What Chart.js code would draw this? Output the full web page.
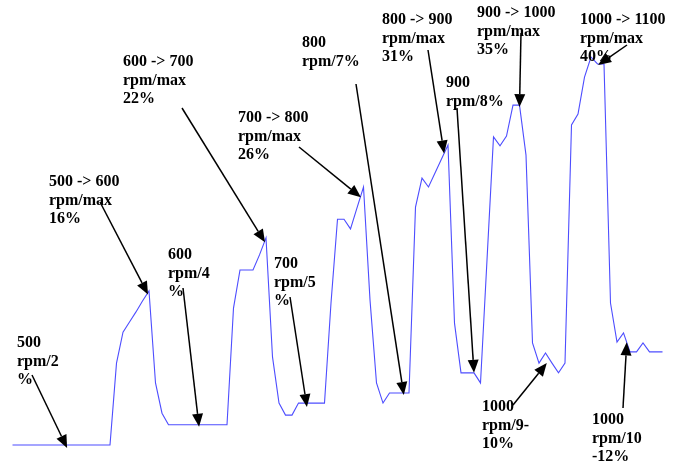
<!DOCTYPE html>
<html>
<head>
<meta charset="utf-8">
<script src="https://cdn.jsdelivr.net/npm/chart.js@4"></script>
<style>
  html, body { margin: 0; padding: 0; background: #ffffff; }
  #c { display: block; }
</style>
</head>
<body>
<canvas id="c" width="685" height="461"></canvas>
<script>
// Signal trace (relative units, 0 = idle baseline, 100 = highest peak), one value per sample
const signal = [
  0, 0, 0, 0, 0, 0, 0, 0, 0, 0, 0, 0, 0, 0, 0, 0,
  21.1, 29.1, 31.7, 34.3, 37.1, 39.7, 16.0, 8.2, 5.2,
  5.2, 5.2, 5.2, 5.2, 5.2, 5.2, 5.2, 5.2, 5.2,
  35.3, 45.1, 45.1, 45.1, 49.0, 53.4, 22.7, 10.8, 7.7, 7.7,
  10.8, 10.8, 10.8, 10.8, 10.8,
  36.6, 58.2, 58.2, 55.7, 61.1, 66.5, 37.4, 16.0, 10.8,
  13.4, 13.4, 13.4, 13.4,
  61.3, 68.8, 66.5, 70.1, 73.7, 77.3, 31.4, 18.6, 18.6, 18.6, 16.0,
  47.7, 79.4, 77.1, 79.6, 87.6, 87.6, 74.7, 26.3, 21.1, 23.7, 21.1, 18.6, 21.1,
  82.5, 85.3, 94.8, 100, 98.2, 98.2, 36.6, 26.5, 28.9, 24.0, 24.0, 26.3, 24.0, 24.0, 24.0
];
const sampleIndex = signal.map((_, i) => i);

// Annotation texts (lines), the sample each arrow points at
const noteLines = [
  ["500", "rpm/2", "%"],
  ["500 -> 600", "rpm/max", "16%"],
  ["600 -> 700", "rpm/max", "22%"],
  ["600", "rpm/4", "%"],
  ["700 -> 800", "rpm/max", "26%"],
  ["700", "rpm/5", "%"],
  ["800", "rpm/7%"],
  ["800 -> 900", "rpm/max", "31%"],
  ["900", "rpm/8%"],
  ["900 -> 1000", "rpm/max", "35%"],
  ["1000 -> 1100", "rpm/max", "40%"],
  ["1000", "rpm/9-", "10%"],
  ["1000", "rpm/10", "-12%"]
];
const noteTargetSample = [8.4, 20.85, 38.85, 28.7, 53.6, 45.3, 60.2, 66.4, 71, 78, 90.1, 82.2, 94.5];
// layout of the annotation blocks: text position and arrow tail (pixels)
const noteTextPos = [
  [17, 343], [49, 182], [123, 62], [168, 255], [238, 118], [274, 264], [302, 43],
  [382, 20], [446, 83], [477, 13], [580, 20], [482, 407], [592, 420]
];
const noteArrowTail = [
  [32, 375], [100, 202], [182, 108], [183, 288], [299, 147], [290, 297], [356, 84],
  [428, 50], [457, 108], [521, 33], [627, 45], [513, 405], [623, 408]
];
const noteTipDy = [3, 2, 2, 2, 2, 4, 2, 0, 0, 2, 1, 8, 0];

function valueAt(idx) {
  const a = Math.floor(idx), b = Math.min(a + 1, signal.length - 1);
  const t = idx - a;
  return signal[a] * (1 - t) + signal[b] * t;
}

const annotationPlugin = {
  id: 'notes',
  afterDatasetsDraw(chart) {
    const ctx = chart.ctx;
    const xs = chart.scales.x, ys = chart.scales.y;
    ctx.save();
    ctx.fillStyle = '#000';
    ctx.strokeStyle = '#000';
    ctx.font = 'bold 16px "Liberation Serif", "Times New Roman", serif';
    ctx.textBaseline = 'middle';
    ctx.textAlign = 'left';
    noteLines.forEach((lines, k) => {
      const [tx, ty] = noteTextPos[k];
      lines.forEach((ln, j) => ctx.fillText(ln, tx, ty + j * 18.6));
      const [x1, y1] = noteArrowTail[k];
      const idx = noteTargetSample[k];
      const x2 = xs.getPixelForValue(idx);
      const y2 = ys.getPixelForValue(valueAt(idx)) + noteTipDy[k];
      const ang = Math.atan2(y2 - y1, x2 - x1);
      const hl = 13, hw = 5.5;
      const bx = x2 - hl * Math.cos(ang), by = y2 - hl * Math.sin(ang);
      ctx.lineWidth = 1.5;
      ctx.beginPath();
      ctx.moveTo(x1, y1);
      ctx.lineTo(bx, by);
      ctx.stroke();
      ctx.beginPath();
      ctx.moveTo(x2, y2);
      ctx.lineTo(bx + hw * Math.sin(ang), by - hw * Math.cos(ang));
      ctx.lineTo(bx - hw * Math.sin(ang), by + hw * Math.cos(ang));
      ctx.closePath();
      ctx.fill();
    });
    ctx.restore();
  }
};

const bgPlugin = {
  id: 'bg',
  beforeDraw(chart) {
    const ctx = chart.ctx;
    ctx.save();
    ctx.fillStyle = '#ffffff';
    ctx.fillRect(0, 0, chart.width, chart.height);
    ctx.restore();
  }
};

new Chart(document.getElementById('c'), {
  type: 'line',
  data: {
    datasets: [{
      data: sampleIndex.map((i) => ({ x: i, y: signal[i] })),
      borderColor: '#4d4dff',
      borderWidth: 1.1,
      pointRadius: 0,
      tension: 0,
      fill: false,
      clip: false
    }]
  },
  options: {
    responsive: false,
    animation: false,
    devicePixelRatio: 1,
    layout: { autoPadding: false, padding: { left: 12.5, right: 22.5, top: 57, bottom: 16 } },
    scales: {
      x: { type: 'linear', min: 0, max: 100, display: false },
      y: { min: 0, max: 100, display: false }
    },
    plugins: { legend: { display: false }, tooltip: { enabled: false }, title: { display: false } }
  },
  plugins: [bgPlugin, annotationPlugin]
});
</script>
</body>
</html>
